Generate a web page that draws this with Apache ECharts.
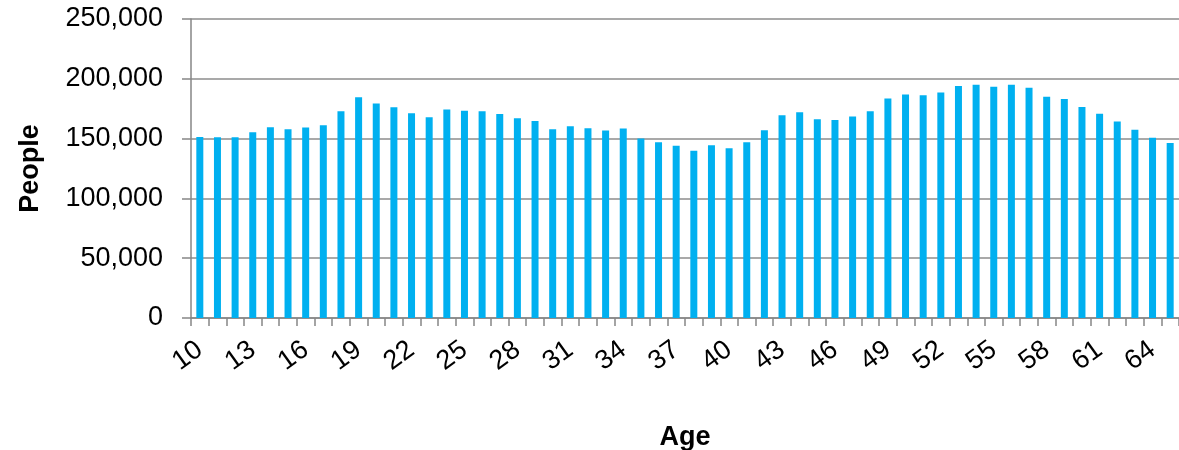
<!DOCTYPE html>
<html><head><meta charset="utf-8">
<script src="https://cdn.jsdelivr.net/npm/echarts@6/dist/echarts.min.js"></script>
<style>html,body{margin:0;padding:0;background:#fff}#c{width:1179px;height:450px}</style>
</head><body><div id="c"></div>
<script>
const ages = [];
for (let a = 10; a <= 65; a++) ages.push(String(a));
const people = [
  151400, 151100, 151100, 155300, 159500, 157800, 159200, 161200, 172900, 184600,
  179300, 176300, 171200, 167900, 174300, 173200, 172900, 170600, 167000, 164800,
  157800, 160300, 158700, 156700, 158400, 150000, 146900, 144100, 139900, 144400,
  141900, 146900, 157000, 169600, 172100, 166200, 165500, 168400, 172900, 183500,
  186900, 186300, 188500, 193900, 195000, 193300, 195000, 192500, 184900, 183200,
  176500, 170700, 164200, 157300, 150800, 146400
];
const yTicks = [0, 50000, 100000, 150000, 200000, 250000];
const FONT = 'Liberation Sans';
const chart = echarts.init(document.getElementById('c'));
chart.setOption({
  animation: false,
  grid: { left: 191, right: 0, top: 19, bottom: 132, containLabel: false, outerBoundsMode: 'none' },
  xAxis: {
    type: 'category', data: ages,
    name: 'Age', nameLocation: 'middle', nameGap: 106,
    nameTextStyle: { fontFamily: FONT, fontSize: 27, fontWeight: 'bold', color: '#000' },
    axisLine: { lineStyle: { color: '#868686', width: 1.5 } },
    axisTick: { show: true, interval: 0, length: 8, alignWithLabel: false, lineStyle: { color: '#868686', width: 1.5 } },
    axisLabel: { interval: 2, rotate: 36, margin: 29, fontFamily: FONT, fontSize: 27, color: '#000' }
  },
  yAxis: {
    type: 'value', min: yTicks[0], max: yTicks[yTicks.length - 1], interval: 50000,
    name: 'People', nameLocation: 'middle', nameGap: 147, nameRotate: 90,
    nameTextStyle: { fontFamily: FONT, fontSize: 27, fontWeight: 'bold', color: '#000' },
    axisLine: { show: true, lineStyle: { color: '#868686', width: 1.5 } },
    axisTick: { show: true, length: 9, lineStyle: { color: '#868686', width: 1.5 } },
    splitLine: { lineStyle: { color: '#8c8c8c', width: 1.5 } },
    axisLabel: { margin: 28, fontFamily: FONT, fontSize: 27, color: '#000',
      formatter: v => v.toLocaleString('en-US') }
  },
  series: [{
    type: 'bar', data: people, barWidth: 7,
    itemStyle: { color: '#00B0F0' }
  }]
});
</script></body></html>
